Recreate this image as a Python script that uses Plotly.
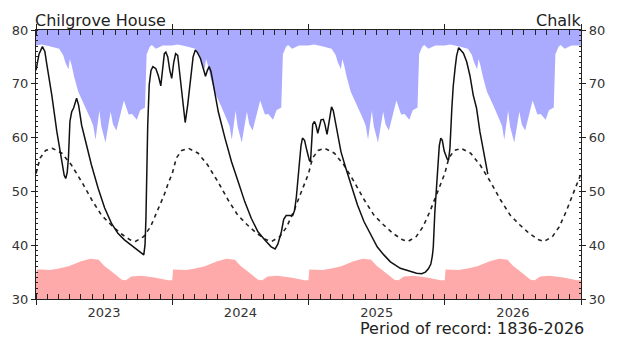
import pandas as pd
import plotly.graph_objects as go

# ---------------- data ----------------
# Observed groundwater level (m AOD) at Chilgrove House, decimal years
level_t = [2023.000, 2023.022, 2023.047, 2023.065, 2023.080, 2023.116, 2023.153, 2023.189,
           2023.207, 2023.218, 2023.229, 2023.238, 2023.249, 2023.262, 2023.276, 2023.298,
           2023.313, 2023.335, 2023.371, 2023.407, 2023.456, 2023.504, 2023.553, 2023.601,
           2023.649, 2023.698, 2023.747, 2023.791, 2023.800, 2023.807, 2023.820, 2023.831,
           2023.844, 2023.858, 2023.880, 2023.898, 2023.916, 2023.927, 2023.942, 2023.953,
           2023.967, 2023.982, 2023.996, 2024.011, 2024.025, 2024.040, 2024.055, 2024.073,
           2024.095, 2024.113, 2024.135, 2024.153, 2024.169, 2024.185, 2024.207, 2024.229,
           2024.244, 2024.258, 2024.271, 2024.284, 2024.302, 2024.338, 2024.387, 2024.435,
           2024.484, 2024.532, 2024.580, 2024.629, 2024.678, 2024.726, 2024.755, 2024.775,
           2024.801, 2024.818, 2024.836, 2024.884, 2024.898, 2024.911, 2024.932, 2024.945,
           2024.956, 2024.971, 2024.989, 2025.007, 2025.015, 2025.022, 2025.031, 2025.044,
           2025.055, 2025.068, 2025.080, 2025.092, 2025.109, 2025.120, 2025.136, 2025.153,
           2025.169, 2025.182, 2025.201, 2025.238, 2025.274, 2025.311, 2025.359, 2025.407,
           2025.456, 2025.504, 2025.553, 2025.601, 2025.674, 2025.747, 2025.793, 2025.831,
           2025.858, 2025.880, 2025.898, 2025.909, 2025.916, 2025.927, 2025.940, 2025.949,
           2025.960, 2025.971, 2025.982, 2025.996, 2026.018, 2026.028, 2026.038, 2026.052,
           2026.062, 2026.076, 2026.087, 2026.102, 2026.120, 2026.137, 2026.161, 2026.185,
           2026.209, 2026.233, 2026.258, 2026.287, 2026.316]
level_m = [72.5, 75.5, 76.9, 76.0, 73.5, 67.9, 61.1, 55.5,
           53.0, 52.4, 53.5, 56.2, 63.0, 64.8, 65.5, 67.3,
           66.0, 62.3, 58.6, 54.9, 50.6, 46.9, 44.1, 42.2,
           41.0, 40.0, 39.1, 38.2, 40.0, 45.0, 62.3, 69.8,
           72.5, 73.2, 72.8, 71.5, 69.6, 72.0, 75.6, 75.9,
           75.0, 72.5, 71.0, 74.0, 75.6, 75.3, 72.0, 67.0,
           62.8, 66.0, 71.3, 75.0, 76.3, 75.8, 74.7, 72.5,
           71.4, 72.5, 73.2, 72.3, 70.0, 64.8, 59.9, 55.5,
           51.8, 48.1, 45.0, 42.5, 41.0, 39.7, 39.3, 40.2,
           42.5, 44.8, 45.5, 45.5, 46.5, 49.0, 54.9, 58.5,
           59.9, 59.5, 57.5, 55.7, 55.5, 58.0, 62.5, 63.0,
           62.3, 60.8, 62.0, 63.3, 63.4, 62.5, 60.6, 63.0,
           65.7, 65.0, 62.3, 57.4, 54.3, 51.2, 47.5, 44.4,
           41.9, 39.7, 38.2, 36.9, 35.7, 35.1, 34.8, 34.7,
           35.0, 35.6, 36.5, 38.0, 39.7, 46.0, 51.2, 55.0,
           58.5, 59.9, 59.5, 57.5, 56.0, 55.8, 58.0, 65.4,
           69.5, 72.9, 75.2, 76.7, 76.2, 75.7, 74.1, 71.5,
           67.9, 65.5, 61.1, 57.2, 53.2]

# Long-term average level through the year (fraction of year)
avg_f = [0.00, 0.03, 0.07, 0.12, 0.19, 0.26, 0.335, 0.41, 0.48, 0.55,
         0.62, 0.69, 0.73, 0.79, 0.84, 0.89, 0.94, 0.97, 1.00]
avg_m = [53.3, 56.2, 57.6, 58.0, 57.1, 54.9, 51.8, 48.4, 45.6, 43.8,
         42.2, 41.0, 40.7, 41.6, 43.4, 46.2, 49.3, 51.5, 53.3]

# Maximum recorded level through the year
max_f = [0.00, 0.04, 0.10, 0.17, 0.20, 0.215, 0.238, 0.248, 0.262, 0.28,
         0.31, 0.36, 0.40, 0.42, 0.437, 0.465, 0.48, 0.51, 0.548, 0.565,
         0.59, 0.645, 0.68, 0.705, 0.74, 0.765, 0.80, 0.812, 0.835, 0.85,
         0.88, 0.93, 1.00]
max_m = [77.1, 77.3, 77.0, 76.5, 75.3, 74.0, 72.7, 74.6, 73.4, 71.3,
         68.5, 65.8, 63.5, 62.2, 59.6, 65.0, 62.0, 59.1, 64.8, 62.5,
         61.3, 66.9, 64.3, 64.4, 63.3, 65.1, 65.6, 75.5, 76.9, 77.2,
         76.5, 77.1, 77.1]

# Minimum recorded level through the year
min_f = [0.0, 0.006, 0.05, 0.10, 0.16, 0.24, 0.33, 0.40, 0.46, 0.48,
         0.50, 0.55, 0.63, 0.66, 0.70, 0.77, 0.87, 0.97, 1.0]
min_m = [33.5, 35.5, 35.5, 35.4, 35.6, 36.1, 37.0, 37.5, 37.3, 36.8,
         36.2, 35.2, 33.6, 33.5, 34.2, 34.3, 34.0, 33.5, 33.5]

years = [2023, 2024, 2025, 2026]
y_ticks = [30, 40, 50, 60, 70, 80]

START = pd.Timestamp("2023-01-01")


def to_dates(dec_years):
    return [START + pd.Timedelta(days=(v - 2023) * 365.25) for v in dec_years]


def tile(fracs, vals):
    xs, ys = [], []
    for yr in years:
        xs += [yr + f for f in fracs]
        ys += vals
    return to_dates(xs), ys


max_x, max_y = tile(max_f, max_m)
min_x, min_y = tile(min_f, min_m)
avg_x, avg_y = tile(avg_f, avg_m)
lvl_x = to_dates(level_t)

BLUE = "#aaaaff"
RED = "#ffaaaa"

fig = go.Figure()
# blue region above the maximum envelope
fig.add_trace(go.Scatter(x=max_x, y=max_y, mode="lines", line=dict(width=0),
                         hoverinfo="skip", showlegend=False))
fig.add_trace(go.Scatter(x=max_x, y=[80] * len(max_x), mode="lines", line=dict(width=0),
                         fill="tonexty", fillcolor=BLUE, hoverinfo="skip", showlegend=False))
# red region below the minimum envelope
fig.add_trace(go.Scatter(x=min_x, y=min_y, mode="lines", line=dict(width=0),
                         fill="tozeroy", fillcolor=RED, hoverinfo="skip", showlegend=False))
# average
fig.add_trace(go.Scatter(x=avg_x, y=avg_y, mode="lines",
                         line=dict(color="#222222", width=1.6, dash="4px,4px"),
                         showlegend=False))
# observed
fig.add_trace(go.Scatter(x=lvl_x, y=level_m, mode="lines",
                         line=dict(color="#111111", width=1.5), showlegend=False))
# invisible trace for right-hand axis
fig.add_trace(go.Scatter(x=avg_x, y=avg_y, yaxis="y2", mode="lines",
                         line=dict(width=0), opacity=0, hoverinfo="skip", showlegend=False))

FONT = "DejaVu Sans"
tickfont = dict(family=FONT, size=13, color="#333333")

fig.update_layout(
    width=617, height=338,
    margin=dict(l=34, r=33, t=30, b=39),
    paper_bgcolor="white", plot_bgcolor="white",
    xaxis=dict(
        type="date", range=["2023-01-01", "2027-01-01"],
        tick0="2023-01-01", dtick="M12", tickformat="%Y", ticklabelmode="period",
        ticks="outside", ticklen=5, tickcolor="#222", tickwidth=1,
        ticklabelstandoff=-4,
        showline=True, linecolor="#222", linewidth=1.2, mirror="allticks",
        showgrid=False, zeroline=False, tickfont=tickfont,
        minor=dict(dtick="M1", tick0="2023-01-01", ticks="inside", ticklen=2,
                   tickcolor="#222", showgrid=False),
    ),
    yaxis=dict(
        range=[30, 80], tickvals=y_ticks, ticks="outside", ticklen=4,
        tickcolor="#222", showline=True, linecolor="#222", linewidth=1.2,
        mirror=True, showgrid=False, zeroline=False, tickfont=tickfont,
        minor=dict(dtick=1, ticks="inside", ticklen=2, tickcolor="#222", showgrid=False),
    ),
    yaxis2=dict(
        range=[30, 80], tickvals=y_ticks, overlaying="y", side="right",
        ticks="outside", ticklen=4, tickcolor="#222", showline=True,
        linecolor="#222", linewidth=1.2, showgrid=False, zeroline=False,
        tickfont=tickfont,
        minor=dict(dtick=1, ticks="inside", ticklen=2, tickcolor="#222", showgrid=False),
    ),
    annotations=[
        dict(text="Chilgrove House", xref="paper", yref="paper", x=0, y=1.0,
             xanchor="left", yanchor="bottom", showarrow=False, xshift=-3, yshift=-2,
             font=dict(family=FONT, size=16, color="#222")),
        dict(text="Chalk", xref="paper", yref="paper", x=1.0, y=1.0,
             xanchor="right", yanchor="bottom", showarrow=False, xshift=3, yshift=-2,
             font=dict(family=FONT, size=16, color="#222")),
        dict(text="Period of record: 1836-2026", xref="paper", yref="paper",
             x=1.0, y=-0.108, xanchor="right", yanchor="middle", showarrow=False,
             xshift=5, font=dict(family=FONT, size=16, color="#222")),
    ],
)

fig.write_html("out.html")
